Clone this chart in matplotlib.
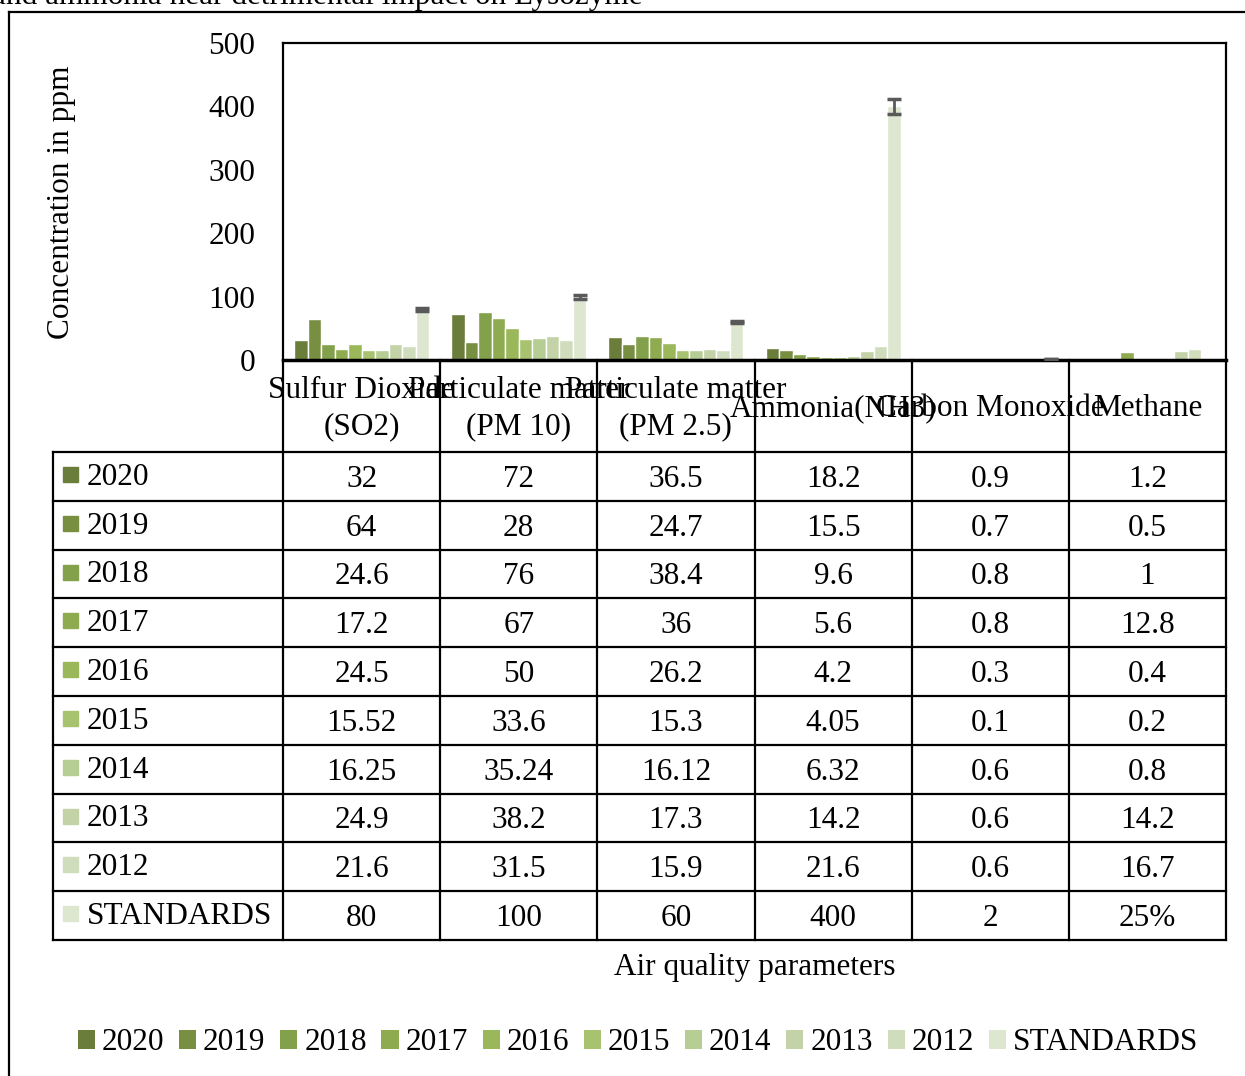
import numpy as np
import matplotlib
matplotlib.use("Agg")
import matplotlib.pyplot as plt
from matplotlib.patches import Patch, Rectangle
from matplotlib.lines import Line2D

plt.rcParams['font.family'] = ['Liberation Serif', 'DejaVu Serif']

# ---------------- data ----------------
categories = ["Sulfur Dioxide\n(SO2)", "Particulate matter\n(PM 10)",
              "Particulate matter\n(PM 2.5)", "Ammonia(NH3)",
              "Carbon Monoxide", "Methane"]
series = ["2020", "2019", "2018", "2017", "2016", "2015", "2014", "2013",
          "2012", "STANDARDS"]
so2 = ["32", "64", "24.6", "17.2", "24.5", "15.52", "16.25", "24.9", "21.6", "80"]
pm10 = ["72", "28", "76", "67", "50", "33.6", "35.24", "38.2", "31.5", "100"]
pm25 = ["36.5", "24.7", "38.4", "36", "26.2", "15.3", "16.12", "17.3", "15.9", "60"]
nh3 = ["18.2", "15.5", "9.6", "5.6", "4.2", "4.05", "6.32", "14.2", "21.6", "400"]
co = ["0.9", "0.7", "0.8", "0.8", "0.3", "0.1", "0.6", "0.6", "0.6", "2"]
ch4 = ["1.2", "0.5", "1", "12.8", "0.4", "0.2", "0.8", "14.2", "16.7", "25%"]
yticks = [0, 100, 200, 300, 400, 500]
colors = ["#6b7d3a", "#788f42", "#83a04a", "#8eab50", "#9ab85a", "#a7c36f",
          "#b6cd93", "#c3d3a7", "#d0ddbd", "#dde6cf"]
title_text = "and ammonia near detrimental impact on Lysozyme"
xlabel = "Air quality parameters"
ylabel = "Concentration in ppm"
err_frac = 0.03

columns = [so2, pm10, pm25, nh3, co, ch4]


def num(s):
    try:
        return float(s)
    except ValueError:
        return np.nan


# ---------------- layout ----------------
W, H = 1245, 1076
fig = plt.figure(figsize=(W / 100, H / 100), dpi=100)
FS = 22.5

L, R, T, B = 283, 1226, 43, 360          # plot area in pixels
ax = fig.add_axes([L / W, 1 - B / H, (R - L) / W, (B - T) / H])
ov = fig.add_axes([0, 0, 1, 1], zorder=5)
ov.set_xlim(0, W)
ov.set_ylim(H, 0)
ov.axis('off')
ov.patch.set_alpha(0)

ncat = len(categories)
nser = len(series)
bw = 0.086
x = np.arange(ncat)
for i, (name, c) in enumerate(zip(series, colors)):
    vals = np.array([num(col[i]) for col in columns])
    pos = x + (i - (nser - 1) / 2) * bw
    ax.bar(pos, vals, width=bw, color=c, edgecolor='white', linewidth=1, zorder=2)
    if name == "STANDARDS":
        ok = ~np.isnan(vals)
        ax.errorbar(pos[ok], vals[ok], yerr=vals[ok] * err_frac, fmt='none',
                    ecolor='#595959', elinewidth=2, capsize=5, capthick=2.5, zorder=3)

ax.set_xlim(-0.5, ncat - 0.5)
ax.set_ylim(0, 500)
ax.set_yticks(yticks)
ax.set_xticks([])
ax.tick_params(axis='y', length=0, pad=20, labelsize=FS)
for s in ['left', 'top', 'right']:
    ax.spines[s].set_linewidth(1.6)
    ax.spines[s].set_color('black')
ax.spines['bottom'].set_linewidth(2.5)

# ---------------- table ----------------
cw = (R - L) / ncat
row_top = 452
rh = 48.8
tab_left = 53
lw = 1.6
nrows = nser
for k in range(nrows + 1):
    y = row_top + k * rh
    ov.add_line(Line2D([tab_left, R], [y, y], color='black', lw=lw))
for j in range(ncat + 1):
    xx = L + j * cw
    ov.add_line(Line2D([xx, xx], [B, row_top + nrows * rh], color='black', lw=lw))
ov.add_line(Line2D([tab_left, tab_left], [row_top, row_top + nrows * rh],
                   color='black', lw=lw))

# header
for j, cat in enumerate(categories):
    ov.text(L + (j + 0.5) * cw, (B + row_top) / 2 + 3, cat, ha='center', va='center',
            fontsize=FS, linespacing=1.32)

# rows
for i, (name, c) in enumerate(zip(series, colors)):
    yc = row_top + (i + 0.5) * rh
    ov.add_patch(Rectangle((63, yc - 9.5), 15, 15, color=c))
    ov.text(87, yc + 1, name, ha='left', va='center', fontsize=FS)
    for j, col in enumerate(columns):
        ov.text(L + (j + 0.5) * cw, yc + 3, col[i], ha='center', va='center', fontsize=FS)

# labels
ov.text((L + R) / 2, 967, xlabel, ha='center', va='center', fontsize=FS)
ov.text(62, (T + B) / 2 + 1, ylabel, ha='center', va='center', rotation=90, fontsize=FS)
ov.text(-8, 4, title_text, ha='left', va='baseline', fontsize=FS)

# outer border
ov.add_line(Line2D([9, 9], [12, H + 5], color='black', lw=1.6))
ov.add_line(Line2D([9, W + 5], [12, 12], color='black', lw=1.6))

# legend
handles = [Patch(facecolor=c, edgecolor='none', label=s) for s, c in zip(series, colors)]
fig.legend(handles=handles, loc='center', bbox_to_anchor=(638 / W, 1 - 1043 / H),
           ncol=nser, frameon=False, fontsize=FS, handlelength=0.55, handleheight=0.55,
           handletextpad=0.22, columnspacing=0.47, borderaxespad=0)

fig.savefig("out.png", dpi=100)
